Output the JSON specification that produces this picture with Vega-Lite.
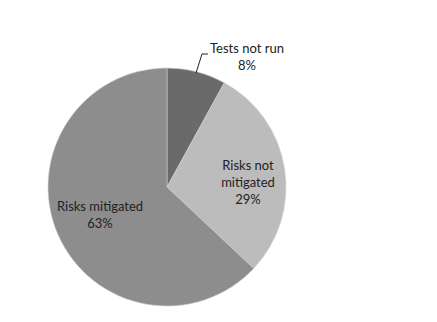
{
  "$schema": "https://vega.github.io/schema/vega-lite/v6.json",
  "width": 240,
  "height": 240,
  "autosize": {"type": "none"},
  "padding": {"left": 47, "top": 67, "right": 150, "bottom": 15},
  "background": "white",
  "config": {"view": {"stroke": null}},
  "layer": [
    {
      "data": {"values": [
        {"category": "Tests not run", "value": 8, "order": 1},
        {"category": "Risks not mitigated", "value": 29, "order": 2},
        {"category": "Risks mitigated", "value": 63, "order": 3}
      ]},
      "mark": {"type": "arc", "outerRadius": 119, "stroke": "#d0d0d0", "strokeWidth": 0.6},
      "encoding": {
        "theta": {"field": "value", "type": "quantitative", "stack": true},
        "order": {"field": "order", "type": "quantitative"},
        "color": {
          "field": "category", "type": "nominal", "legend": null,
          "scale": {"domain": ["Tests not run", "Risks not mitigated", "Risks mitigated"], "range": ["#6a6a6a", "#bcbcbc", "#8d8d8d"]}
        }
      }
    },
    {
      "data": {"values": [
        {"px": 29, "py": 114, "k": 1},
        {"px": 35, "py": 133, "k": 2},
        {"px": 41, "py": 133, "k": 3}
      ]},
      "mark": {"type": "line", "color": "#222222", "strokeWidth": 1, "clip": false},
      "encoding": {
        "x": {"field": "px", "type": "quantitative", "scale": {"domain": [-120, 120]}, "axis": null},
        "y": {"field": "py", "type": "quantitative", "scale": {"domain": [-120, 120]}, "axis": null},
        "order": {"field": "k", "type": "quantitative"}
      }
    },
    {
      "data": {"values": [
        {"label": "Tests not run\n8%", "lx": 80, "ly": 138},
        {"label": "Risks not\nmitigated\n29%", "lx": 81, "ly": 21},
        {"label": "Risks mitigated\n63%", "lx": -67, "ly": -20}
      ]},
      "mark": {"type": "text", "font": "Lato", "fontSize": 13, "color": "#222222", "lineBreak": "\n", "lineHeight": 17, "align": "center", "baseline": "middle", "clip": false},
      "encoding": {
        "x": {"field": "lx", "type": "quantitative", "scale": {"domain": [-120, 120]}, "axis": null},
        "y": {"field": "ly", "type": "quantitative", "scale": {"domain": [-120, 120]}, "axis": null},
        "text": {"field": "label", "type": "nominal"}
      }
    }
  ]
}
